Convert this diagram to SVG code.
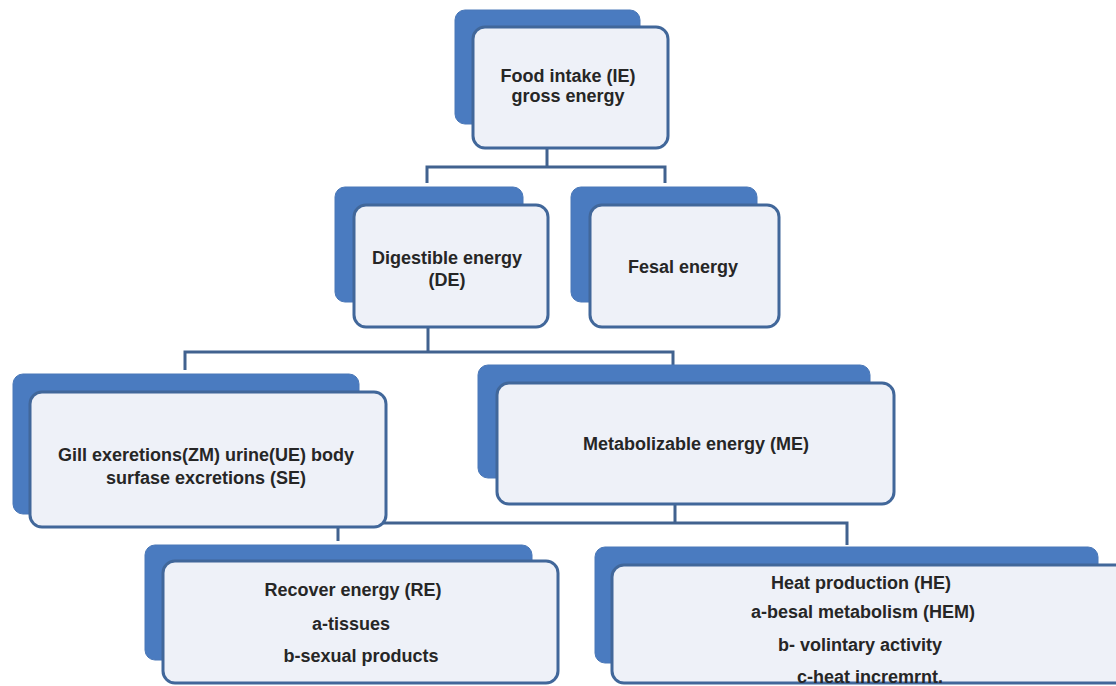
<svg xmlns="http://www.w3.org/2000/svg" width="1116" height="686" viewBox="0 0 1116 686">
<style>
.back{fill:#4a7bc0;stroke:#4a78b8;stroke-width:1}
.front{fill:#eef1f8;stroke:#41679a;stroke-width:3}
.conn{fill:none;stroke:#41628f;stroke-width:3}
text{font-family:"Liberation Sans",Arial,sans-serif;font-weight:bold;font-size:18px;fill:#262626;text-anchor:middle}
</style>
<rect x="0" y="0" width="1116" height="686" fill="#ffffff"/>
<g id="connectors">
<path class="conn" d="M547 148V167M427 183V167H665V183"/>
<path class="conn" d="M428 327V352M185 370V352H673V365"/>
<path class="conn" d="M675 503V523M338 541V523H847V545"/>
</g>
<g id="food">
<rect class="back" x="455" y="10" width="185" height="114" rx="10"/>
<rect class="front" x="473" y="27" width="195" height="121" rx="12"/>
<text x="568" y="82">Food intake (IE)</text>
<text x="568" y="102">gross energy</text>
</g>
<g id="digestible">
<rect class="back" x="335" y="187" width="188" height="115" rx="10"/>
<rect class="front" x="354" y="205" width="194" height="122" rx="12"/>
<text x="447" y="264">Digestible energy</text>
<text x="447" y="286">(DE)</text>
</g>
<g id="fesal">
<rect class="back" x="571" y="187" width="186" height="115" rx="10"/>
<rect class="front" x="590" y="205" width="189" height="122" rx="12"/>
<text x="683" y="273">Fesal energy</text>
</g>
<g id="gill">
<rect class="back" x="13" y="374" width="346" height="140" rx="10"/>
<rect class="front" x="30" y="392" width="356" height="135" rx="12"/>
<text x="206" y="461">Gill exeretions(ZM) urine(UE) body</text>
<text x="206" y="484">surfase excretions (SE)</text>
</g>
<g id="metabolizable">
<rect class="back" x="478" y="365" width="392" height="113" rx="10"/>
<rect class="front" x="497" y="383" width="397" height="121" rx="12"/>
<text x="696" y="450">Metabolizable energy (ME)</text>
</g>
<g id="recover">
<rect class="back" x="145" y="545" width="387" height="115" rx="10"/>
<rect class="front" x="163" y="561" width="395" height="122" rx="12"/>
<text x="353" y="596">Recover energy (RE)</text>
<text x="351" y="630">a-tissues</text>
<text x="361" y="662">b-sexual products</text>
</g>
<g id="heat">
<rect class="back" x="595" y="547" width="503" height="116" rx="10"/>
<rect class="front" x="612" y="565" width="520" height="118" rx="12"/>
<text x="861" y="589">Heat production (HE)</text>
<text x="863" y="618">a-besal metabolism (HEM)</text>
<text x="860" y="651">b- volintary activity</text>
<text x="870" y="683">c-heat incremrnt.</text>
</g>
</svg>
